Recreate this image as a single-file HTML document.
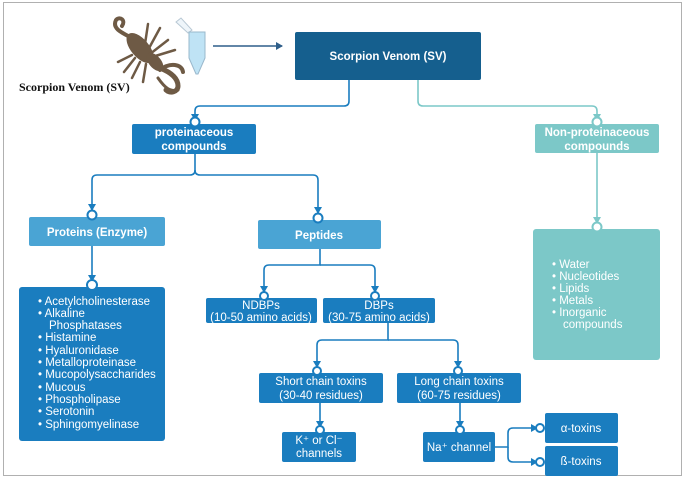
<!DOCTYPE html>
<html><head><meta charset="utf-8"><style>
body{margin:0;background:#fff;}
svg{display:block;font-family:"Liberation Sans",sans-serif;}
.t{fill:#fff;font-size:11.5px;text-anchor:middle;}
.l{fill:#fff;font-size:11.5px;}
</style></head><body>
<svg width="685" height="480" viewBox="0 0 685 480" xmlns="http://www.w3.org/2000/svg">
<defs>
<marker id="a" markerWidth="8" markerHeight="8" refX="6" refY="4" orient="auto" markerUnits="userSpaceOnUse"><path d="M0,0L7,4L0,8z" fill="#1a7dbf"/></marker>
<marker id="b" markerWidth="8" markerHeight="8" refX="6" refY="4" orient="auto" markerUnits="userSpaceOnUse"><path d="M0,0L7,4L0,8z" fill="#7cc8c8"/></marker>
<marker id="c" markerWidth="8" markerHeight="8" refX="6" refY="4" orient="auto" markerUnits="userSpaceOnUse"><path d="M0,0L7,4L0,8z" fill="#2f5f8a"/></marker>
</defs>
<rect x="3.5" y="2.5" width="678" height="473" fill="#fff" stroke="#b0b0b0"/>
<!-- scorpion -->
<g fill="#6e5a45" stroke="#6e5a45" stroke-linecap="round">
<ellipse cx="140" cy="48" rx="9" ry="18" transform="rotate(-40 140 48)" stroke="none"/>
<ellipse cx="155" cy="62" rx="6" ry="11" transform="rotate(-40 155 62)" stroke="none"/>
<path d="M132,38 C120,32 112,28 116,20 C120,16 126,20 122,26" fill="none" stroke-width="4"/>
<path d="M160,68 C170,72 178,78 178,86 C178,92 170,94 166,90" fill="none" stroke-width="5"/>
<path d="M160,70 C170,62 182,64 183,72" fill="none" stroke-width="4"/>
<path d="M148,50 L160,28 M150,54 L168,40 M152,57 L175,50 M145,44 L148,24 M132,55 L118,62 M135,58 L124,72 M140,62 L132,78 M146,64 L143,82" fill="none" stroke-width="2.5"/>
<path d="M158,78 C165,88 170,92 178,90" fill="none" stroke-width="3"/>
</g>
<!-- tube -->
<path d="M176,22 L181,18 L192,30 L188,33z" fill="#eef5fa" stroke="#b8c8d4"/>
<path d="M189,32 L205,32 L205,58 L198,74 L196,74 L189,58z" fill="#bfe3f5" stroke="#9ab8cc"/>
<text x="19" y="91" font-family="Liberation Serif,serif" font-weight="bold" font-size="12" fill="#111">Scorpion Venom (SV)</text>
<line x1="213" y1="46" x2="282" y2="46" stroke="#2f5f8a" stroke-width="1.5" marker-end="url(#c)"/>
<!-- connectors -->
<g fill="none" stroke="#1a7dbf" stroke-width="1.6">
<path d="M349,80 V101 Q349,106 344,106 H200 Q195,106 195,111 V120" marker-end="url(#a)"/>
<path d="M195,154 V170 Q195,175 190,175 H97 Q92,175 92,180 V210" marker-end="url(#a)"/>
<path d="M195,170 Q195,175 200,175 H313 Q318,175 318,180 V213" marker-end="url(#a)"/>
<path d="M92,246 V281" marker-end="url(#a)"/>
<path d="M320,249 V265 H269 Q264,265 264,270 V292" marker-end="url(#a)"/>
<path d="M320,265 H370 Q375,265 375,270 V292" marker-end="url(#a)"/>
<path d="M388,323 V340 H322 Q317,340 317,345 V367" marker-end="url(#a)"/>
<path d="M388,340 H453 Q458,340 458,345 V367" marker-end="url(#a)"/>
<path d="M320,403 V427" marker-end="url(#a)"/>
<path d="M460,403 V427" marker-end="url(#a)"/>
<path d="M495,447 H508 V433 Q508,428 513,428 H537" marker-end="url(#a)"/>
<path d="M508,447 V457 Q508,462 513,462 H537" marker-end="url(#a)"/>
</g>
<g fill="none" stroke="#7cc8c8" stroke-width="1.6">
<path d="M418,80 V101 Q418,106 423,106 H592 Q597,106 597,111 V120" marker-end="url(#b)"/>
<path d="M597,153 V223" marker-end="url(#b)"/>
</g>
<!-- boxes -->
<rect x="295" y="32" width="186" height="48" rx="2" fill="#155f8e"/>
<text class="t" x="388" y="60" font-weight="bold" font-size="12.5">Scorpion Venom (SV)</text>
<rect x="132" y="124" width="124" height="30" rx="2" fill="#1a7dbf"/>
<text class="t" x="194" y="136" font-weight="bold">proteinaceous</text>
<text class="t" x="194" y="150" font-weight="bold">compounds</text>
<rect x="535" y="124" width="124" height="29" rx="2" fill="#7cc8c8"/>
<text class="t" x="597" y="136" font-weight="bold">Non-proteinaceous</text>
<text class="t" x="597" y="150" font-weight="bold">compounds</text>
<rect x="29" y="217" width="136" height="29" rx="2" fill="#4aa4d4"/>
<text class="t" x="97" y="236" font-weight="bold">Proteins (Enzyme)</text>
<rect x="258" y="220" width="123" height="29" rx="2" fill="#4aa4d4"/>
<text class="t" x="319" y="239" font-weight="bold">Peptides</text>
<rect x="533" y="229" width="127" height="131" rx="3" fill="#7cc8c8"/>
<g class="l" font-size="11">
<text x="552" y="268">•  Water</text><text x="552" y="280">•  Nucleotides</text><text x="552" y="292">•  Lipids</text><text x="552" y="304">•  Metals</text><text x="552" y="316">•  Inorganic</text><text x="563" y="328">compounds</text>
</g>
<rect x="19" y="287" width="146" height="154" rx="3" fill="#1a7dbf"/>
<g class="l" font-size="11">
<text x="38" y="305">•  Acetylcholinesterase</text><text x="38" y="317">•  Alkaline</text><text x="49" y="329">Phosphatases</text><text x="38" y="341">•  Histamine</text><text x="38" y="354">•  Hyaluronidase</text><text x="38" y="366">•  Metalloproteinase</text><text x="38" y="378">•  Mucopolysaccharides</text><text x="38" y="391">•  Mucous</text><text x="38" y="403">•  Phospholipase</text><text x="38" y="415">•  Serotonin</text><text x="38" y="428">•  Sphingomyelinase</text>
</g>
<rect x="206" y="298" width="111" height="25" rx="2" fill="#1a7dbf"/>
<text class="t" x="261" y="309" font-size="11">NDBPs</text><text class="t" x="261" y="321" font-size="11">(10-50 amino acids)</text>
<rect x="323" y="298" width="112" height="25" rx="2" fill="#1a7dbf"/>
<text class="t" x="379" y="309" font-size="11">DBPs</text><text class="t" x="379" y="321" font-size="11">(30-75 amino acids)</text>
<rect x="259" y="373" width="124" height="30" rx="2" fill="#1a7dbf"/>
<text class="t" x="321" y="385" font-size="12">Short chain toxins</text><text class="t" x="321" y="399" font-size="12">(30-40 residues)</text>
<rect x="397" y="373" width="124" height="30" rx="2" fill="#1a7dbf"/>
<text class="t" x="459" y="385" font-size="12">Long chain toxins</text><text class="t" x="459" y="399" font-size="12">(60-75 residues)</text>
<rect x="282" y="432" width="74" height="30" rx="2" fill="#1a7dbf"/>
<text class="t" x="319" y="444" font-size="9.5">K⁺ or Cl⁻</text><text class="t" x="319" y="457" font-size="9.5">channels</text>
<rect x="423" y="432" width="72" height="30" rx="2" fill="#1a7dbf"/>
<text class="t" x="459" y="451" font-size="9.5">Na⁺ channel</text>
<rect x="545" y="413" width="73" height="30" rx="2" fill="#1a7dbf"/>
<text class="t" x="581" y="432" font-size="9.5">α-toxins</text>
<rect x="545" y="446" width="73" height="30" rx="2" fill="#1a7dbf"/>
<text class="t" x="581" y="465" font-size="9.5">ß-toxins</text>
<!-- circles -->
<g fill="#fff" stroke="#1a7dbf" stroke-width="2">
<circle cx="195" cy="122" r="4.5"/><circle cx="92" cy="215" r="4.5"/><circle cx="318" cy="218" r="4.5"/>
<circle cx="92" cy="285" r="5"/><circle cx="264" cy="296" r="4"/><circle cx="375" cy="296" r="4"/>
<circle cx="317" cy="371" r="4"/><circle cx="458" cy="371" r="4"/><circle cx="320" cy="430" r="4"/><circle cx="460" cy="430" r="4"/>
<circle cx="540" cy="428" r="4"/><circle cx="540" cy="462" r="4"/>
</g>
<g fill="#fff" stroke="#7cc8c8" stroke-width="2">
<circle cx="597" cy="122" r="4.5"/><circle cx="597" cy="227" r="4.5"/>
</g>
</svg>
</body></html>
